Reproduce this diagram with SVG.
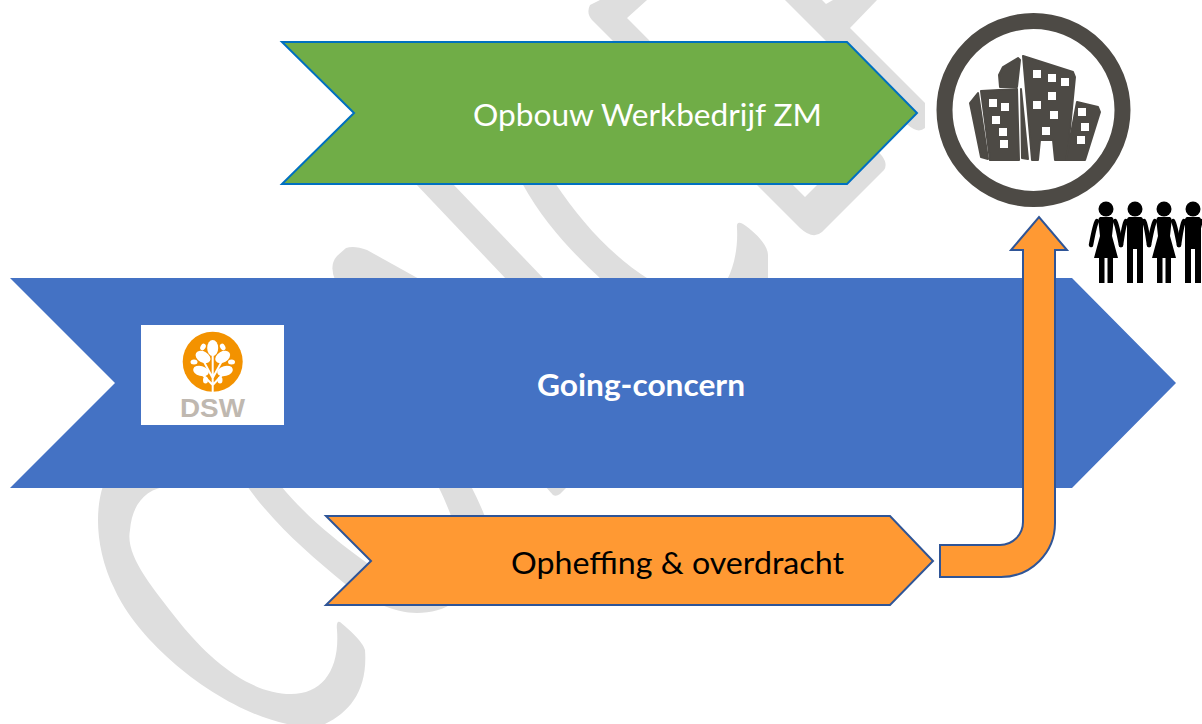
<svg xmlns="http://www.w3.org/2000/svg" width="1202" height="724" viewBox="0 0 1202 724">
<style>
.wm{fill:#dedede}
.lbl{font-family:"Lato","Carlito","Open Sans",sans-serif}
.win{fill:#fff}
.bld{fill:#4d4a45;stroke:#4d4a45;stroke-width:2;stroke-linejoin:round}
.leaf{fill:#fff}
.arm{stroke:#000;stroke-width:4.5;stroke-linecap:round;fill:none}
</style>
<defs>
<g id="woman">
<circle cx="0" cy="209" r="7.5"/>
<path d="M-6,217 H6 Q8,218 7.5,222 L6,236 L12,258 H-12 L-6,236 L-7.5,222 Q-8,218 -6,217Z"/>
<rect x="-7" y="256" width="5.5" height="27"/>
<rect x="1.5" y="256" width="5.5" height="27"/>
<path class="arm" d="M-9,221 Q-11,224 -15,245M9,221 Q11,224 15,245"/>
</g>
<g id="man">
<circle cx="0" cy="209" r="7.5"/>
<path d="M-6,217 H6 Q9,218 8,224 V283 H2 V249 H-2 V283 H-8 V224 Q-9,218 -6,217Z"/>
<path class="arm" d="M-9,221 Q-11,224 -14,245M9,221 Q11,224 14,245"/>
</g>
</defs>
<rect width="1202" height="724" fill="#fff"/>
<g id="watermark">
<path class="wm" d="M600,0 L590,5 Q586,13 592,20 L800,228 Q813,240 822,232 L884,170 Q888,164 882,156 L860,130 L780,150 L817,185 L805,197 L793,185 L627,18 L647,0Z"/>
<path class="wm" d="M785,0 L827,42 L860,100 L908,125 Q918,134 925,128 V103 L850,28 L877,0 H833 L826,4 L822,0Z"/>
<path class="wm" d="M415,183 H452 L545,280 H507Z"/>
<path class="wm" d="M335,280 Q329,265 337,256 L346,248 Q354,245 367,250 L421,280Z"/>
<path class="wm" d="M522,183 C545,225 575,255 602,280 H650 C610,255 580,220 555,183Z"/>
<path class="wm" d="M727,280 C735,265 738,245 737,228 Q736,220 743,224 C755,232 768,245 768,255 V280Z"/>
<path class="wm" d="M545,486 L553,495 Q556,497 560,494 L568,486Z"/>
<path class="wm" d="M103,486 C95,510 95,550 115,590 C140,645 220,710 287,724 H325 C350,712 368,690 365,650 Q362,640 340,622 Q336,620 337,630 C340,670 322,694 291,694 C250,694 210,660 180,623 C150,585 125,555 130,530 C132,505 145,488 170,486Z"/>
<path class="wm" d="M247,486 C275,525 310,555 344,583 C365,600 395,613 417,613 C445,613 470,600 480,560 L490,530 C485,515 478,500 471,486 H438 C445,500 452,516 455,530 L400,560 L367,563 C335,540 305,515 281,486Z"/>
</g>
<g id="node-going-concern">
<path d="M10,278 H1072 L1176,383 L1072,488 H10 L115,383Z" fill="#4472c4"/>
<text class="lbl" x="641" y="396" font-size="30" font-weight="700" fill="#fff" text-anchor="middle" textLength="208" lengthAdjust="spacingAndGlyphs">Going-concern</text>
</g>
<g id="node-dsw-logo">
<rect x="141" y="325" width="143" height="100" fill="#fff"/>
<circle cx="212.7" cy="361.7" r="30" fill="#f39200"/>
<path d="M212.7,392 V352M212.7,378 L203,360M212.7,378 L222.5,360M212.7,385 L200,372M212.7,385 L225,372" stroke="#fff" stroke-width="2" fill="none"/>
<g class="leaf">
<ellipse cx="212.7" cy="348" rx="5.5" ry="8"/>
<ellipse cx="203" cy="357" rx="8" ry="5.5" transform="rotate(30 203 357)"/>
<ellipse cx="222.7" cy="357" rx="8" ry="5.5" transform="rotate(-30 222.7 357)"/>
<ellipse cx="203" cy="347" rx="2.5" ry="3.5" transform="rotate(30 203 347)"/>
<ellipse cx="222.7" cy="347" rx="2.5" ry="3.5" transform="rotate(-30 222.7 347)"/>
<ellipse cx="194" cy="362" rx="3.5" ry="2.5"/>
<ellipse cx="231.5" cy="362" rx="3.5" ry="2.5"/>
<ellipse cx="201" cy="371" rx="8" ry="5" transform="rotate(15 201 371)"/>
<ellipse cx="225" cy="371" rx="8" ry="5" transform="rotate(-15 225 371)"/>
<ellipse cx="205.5" cy="380" rx="2.5" ry="3.5"/>
<ellipse cx="220" cy="380" rx="2.5" ry="3.5"/>
</g>
<text x="212.5" y="417" font-family="'Liberation Sans',Arial,sans-serif" font-size="26" font-weight="700" fill="#bfb8b0" text-anchor="middle" textLength="65" lengthAdjust="spacingAndGlyphs">DSW</text>
</g>
<g id="node-opbouw">
<path d="M282,42 H847 L917,113 L847,184 H282 L354,113Z" fill="#70ad47" stroke="#0070c0" stroke-width="2"/>
<text class="lbl" x="473" y="126" font-size="30.5" fill="#fff" textLength="349" lengthAdjust="spacingAndGlyphs">Opbouw Werkbedrijf ZM</text>
</g>
<g id="node-opheffing">
<path d="M326,516 H890 L933,561 L890,605 H326 L371,561Z" fill="#ff9933" stroke="#2f5597" stroke-width="2"/>
<text class="lbl" x="511" y="574" font-size="30.5" fill="#000" textLength="333" lengthAdjust="spacingAndGlyphs">Opheffing &amp; overdracht</text>
</g>
<g id="connectors">
<path id="bent-arrow" d="M940,545 H1000 A23,23 0 0 0 1023,522 V250 H1011 L1039,217 L1067,250 H1055 V523 A54,54 0 0 1 1001,577 H940Z" fill="#ff9933" stroke="#2f5597" stroke-width="2"/>
</g>
<g id="node-city">
<circle cx="1033.5" cy="110" r="89" fill="#fff" stroke="#4d4a45" stroke-width="16"/>
<g class="bld">
<path d="M970,103 L978,93 L988,159 L981,157Z"/>
<path d="M981,91 L1017,89 L1019,160 H990Z"/>
<path d="M999,75 L1003,67 L1018,58 L1020,60 L1017,87 H1000Z"/>
<path d="M1021,89 L1028,159 L1022,158Z"/>
<path d="M1023,56 L1073,72 L1075,77 L1067,160 H1055 L1053,140 H1040 L1038,160 H1032Z"/>
<path d="M1077,102 L1098,107 L1100,112 L1085,160 H1066Z"/>
</g>
<g class="win">
<rect x="1033" y="70" width="8" height="8"/>
<rect x="1048" y="74" width="8" height="8"/>
<rect x="1061" y="78" width="8" height="8"/>
<rect x="1048" y="92" width="8" height="8"/>
<rect x="1033" y="101" width="8" height="8"/>
<rect x="1050" y="111" width="8" height="8"/>
<rect x="1042" y="127" width="8" height="8"/>
<rect x="989" y="99" width="8" height="8"/>
<rect x="1001" y="103" width="8" height="8"/>
<rect x="992" y="116" width="8" height="8"/>
<rect x="999" y="128" width="8" height="8"/>
<rect x="1000" y="140" width="8" height="8"/>
<rect x="1078" y="108" width="8" height="8"/>
<rect x="1081" y="123" width="8" height="8"/>
<rect x="1077" y="136" width="8" height="8"/>
</g>
</g>
<g id="node-people">
<use href="#woman" x="1106"/>
<use href="#man" x="1135"/>
<use href="#woman" x="1164"/>
<use href="#man" x="1193"/>
</g>
</svg>
